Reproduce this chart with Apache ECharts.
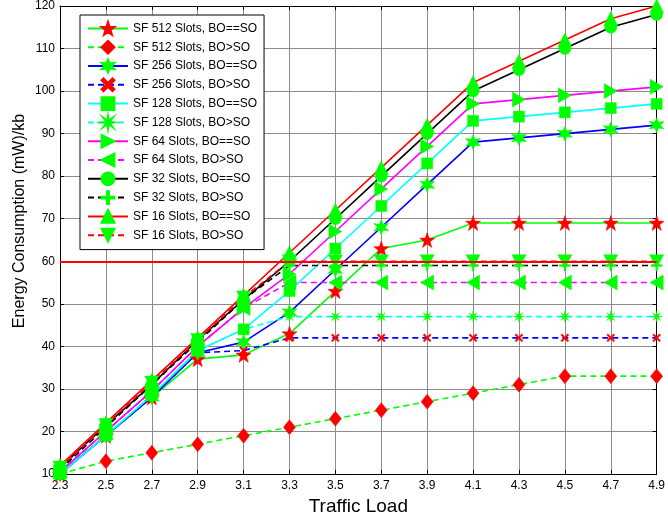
<!DOCTYPE html>
<html><head><meta charset="utf-8">
<script src="https://cdn.jsdelivr.net/npm/echarts@6/dist/echarts.min.js"></script>
<style>html,body{margin:0;padding:0;background:#fff}#c{width:668px;height:523px}</style>
</head><body><div id="c"></div>
<script>
// ---- data ----
const trafficLoad = ['2.3','2.5','2.7','2.9','3.1','3.3','3.5','3.7','3.9','4.1','4.3','4.5','4.7','4.9'];
const yTicks = [10,20,30,40,50,60,70,80,90,100,110,120];
const sf512eq = [10, 19, 28, 37, 38, 43, 53, 63, 65, 69, 69, 69, 69, 69];
const sf512gt = [10, 13, 15, 17, 19, 21, 23, 25, 27, 29, 31, 33, 33, 33];
const sf256eq = [10, 19, 28, 38.5, 41, 48, 58, 68, 78, 88, 89, 90, 91, 92];
const sf256gt = [10, 19, 28, 38.5, 39, 42, 42, 42, 42, 42, 42, 42, 42, 42];
const sf128eq = [10, 19, 28.5, 39, 44, 53, 63, 73, 83, 93, 94, 95, 96, 97];
const sf128gt = [10, 19, 28.5, 39, 44, 47, 47, 47, 47, 47, 47, 47, 47, 47];
const sf64eq  = [10.5, 20, 29.5, 40, 49, 57, 67, 77, 87, 97, 98, 99, 100, 101];
const sf64gt  = [10.5, 20, 29.5, 40, 49, 55, 55, 55, 55, 55, 55, 55, 55, 55];
const sf32eq  = [11.5, 21.5, 31, 41.5, 51, 60, 70, 80, 90, 100, 105, 110, 115, 118];
const sf32gt  = [11, 21, 31, 41, 51, 59, 59, 59, 59, 59, 59, 59, 59, 59];
const sf16eq  = [12, 22, 32, 42, 52, 62, 72, 82, 92, 102, 107, 112, 117, 120];
const sf16gt  = [11.5, 21.5, 31.5, 41.5, 51.5, 60, 60, 60, 60, 60, 60, 60, 60, 60];
const threshold = 60;

// ---- symbols ----
function starPath(n, ro, ri, rot) {
  let p = '';
  for (let i = 0; i < 2 * n; i++) {
    const r = i % 2 === 0 ? ro : ri;
    const a = rot + Math.PI * i / n;
    p += (i === 0 ? 'M' : 'L') + (r * Math.cos(a)).toFixed(2) + ',' + (r * Math.sin(a)).toFixed(2);
  }
  return 'path://' + p + 'Z';
}
const SYM = {
  star5: starPath(5, 10, 4, -Math.PI / 2),
  hexa: starPath(6, 10, 4.6, -Math.PI / 2),
  xmark: 'path://M3,0L10,7L17,0L20,3L13,10L20,17L17,20L10,13L3,20L0,17L7,10L0,3Z',
  aster: starPath(8, 10, 3, -Math.PI / 2),
  plus: 'path://M8.5,0H11.5V8.5H20V11.5H11.5V20H8.5V11.5H0V8.5H8.5Z',
  rtri: 'path://M0,0L18,10L0,20Z',
  ltri: 'path://M18,0L0,10L18,20Z',
  dtri: 'path://M0,0L20,0L10,18Z'
};
const GREEN = '#00ff00', RED = '#ff0000';
const FONT = "'Liberation Sans', Arial, sans-serif";

function mk(name, data, lineColor, dashed, symbol, size, markerColor) {
  return {
    name, type: 'line', data, symbol, symbolSize: size, clip: false,
    xAxisIndex: 0, yAxisIndex: 0,
    lineStyle: { color: lineColor, width: 1.6, type: dashed ? [6, 4] : 'solid' },
    itemStyle: { color: markerColor, borderColor: markerColor, borderWidth: 0.5 },
    emphasis: { disabled: true },
    animation: false
  };
}

const series = [
  mk('SF 512 Slots, BO==SO', sf512eq, GREEN, false, SYM.star5, 15, RED),
  mk('SF 512 Slots, BO>SO', sf512gt, GREEN, true, 'diamond', [12, 15], RED),
  mk('SF 256 Slots, BO==SO', sf256eq, '#0000ff', false, SYM.hexa, 15, GREEN),
  mk('SF 256 Slots, BO>SO', sf256gt, '#0000ff', true, SYM.xmark, 8, RED),
  mk('SF 128 Slots, BO==SO', sf128eq, '#00ffff', false, 'rect', 11, GREEN),
  mk('SF 128 Slots, BO>SO', sf128gt, '#00ffff', true, SYM.aster, 11, GREEN),
  mk('SF 64 Slots, BO==SO', sf64eq, '#ff00ff', false, SYM.rtri, [13, 15], GREEN),
  mk('SF 64 Slots, BO>SO', sf64gt, '#ff00ff', true, SYM.ltri, [13, 15], GREEN),
  mk('SF 32 Slots, BO==SO', sf32eq, '#000000', false, 'circle', 12, GREEN),
  mk('SF 32 Slots, BO>SO', sf32gt, '#000000', true, SYM.plus, 11, GREEN),
  mk('SF 16 Slots, BO==SO', sf16eq, RED, false, 'triangle', [14, 14], GREEN),
  mk('SF 16 Slots, BO>SO', sf16gt, RED, true, SYM.dtri, [14, 13], GREEN)
];
series[0].markLine = {
  silent: true, symbol: 'none', animation: false,
  label: { show: false },
  lineStyle: { color: RED, width: 2, type: 'solid' },
  data: [{ yAxis: threshold }]
};

const chart = echarts.init(document.getElementById('c'), null, { renderer: 'canvas' });
chart.setOption({
  animation: false,
  backgroundColor: '#fff',
  textStyle: { fontFamily: FONT },
  grid: { left: 60, right: 7, top: 4, bottom: 49, containLabel: false },
  legend: {
    orient: 'vertical', left: 80, top: 15,
    itemWidth: 40, itemHeight: 16, itemGap: 4,
    padding: [6, 7, 7, 7],
    borderColor: '#000', borderWidth: 1, backgroundColor: '#fff',
    textStyle: { fontSize: 12, fontFamily: FONT, color: '#000' },
    data: series.map(s => s.name),
    selectedMode: false
  },
  xAxis: [{
    type: 'category', data: trafficLoad, boundaryGap: false,
    name: 'Traffic Load', nameLocation: 'middle', nameGap: 21,
    nameTextStyle: { fontSize: 19, color: '#000', fontFamily: FONT },
    axisLine: { lineStyle: { color: '#000', width: 1 } },
    axisTick: { inside: true, length: 4, interval: 0, lineStyle: { color: '#000' } },
    axisLabel: { interval: 0, margin: 6, fontSize: 12, color: '#000', fontFamily: FONT },
    splitLine: { show: true, interval: 0, lineStyle: { color: '#8c8c8c', width: 1 } }
  }, {
    type: 'category', data: trafficLoad, boundaryGap: false, position: 'top',
    axisLine: { lineStyle: { color: '#000', width: 1 } },
    axisTick: { inside: true, length: 4, interval: 0, lineStyle: { color: '#000' } },
    axisLabel: { show: false }, splitLine: { show: false }
  }],
  yAxis: [{
    type: 'value', min: yTicks[0], max: yTicks[yTicks.length - 1], interval: 10,
    axisLine: { show: true, lineStyle: { color: '#000', width: 1 } },
    axisTick: { show: true, inside: true, length: 4, lineStyle: { color: '#000' } },
    axisLabel: { margin: 5, fontSize: 12, color: '#000', fontFamily: FONT },
    splitLine: { show: true, lineStyle: { color: '#8c8c8c', width: 1 } }
  }, {
    type: 'value', min: yTicks[0], max: yTicks[yTicks.length - 1], interval: 10, position: 'right',
    axisLine: { show: true, lineStyle: { color: '#000', width: 1 } },
    axisTick: { show: true, inside: true, length: 4, lineStyle: { color: '#000' } },
    axisLabel: { show: false }, splitLine: { show: false }
  }],
  graphic: [{
    type: 'text', x: 20, y: 221, rotation: Math.PI / 2,
    style: { text: 'Energy Consumption (mW)/kb', fontSize: 16, fontFamily: FONT, fill: '#000',
      align: 'center', verticalAlign: 'middle', textAlign: 'center', textVerticalAlign: 'middle' }
  }],
  series
});
</script></body></html>
